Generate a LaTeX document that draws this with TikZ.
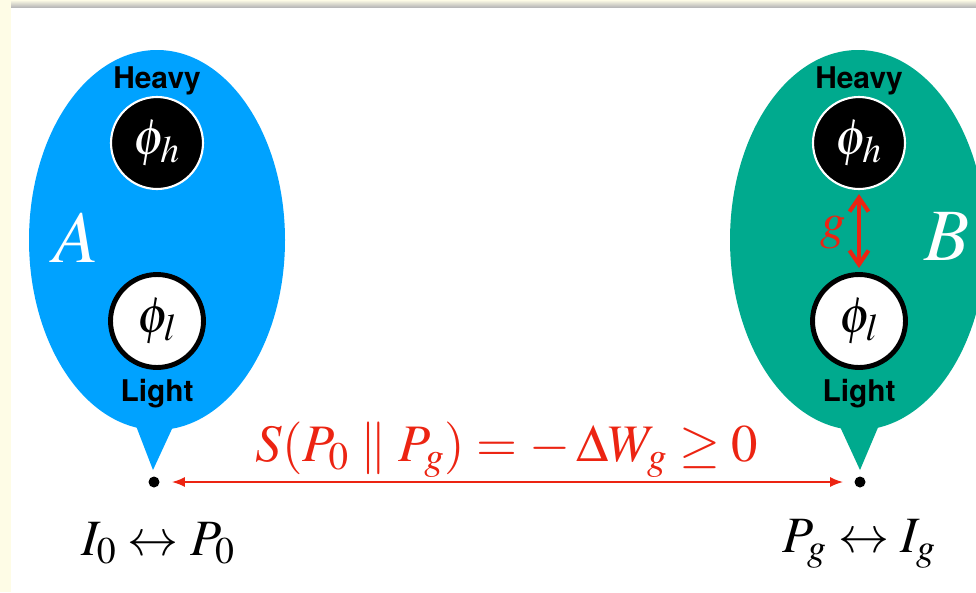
\documentclass[tikz,border=0pt]{standalone}
\usepackage{mathptmx}
\usepackage{fontspec}
\setmainfont{Liberation Serif}
\newfontfamily\labelfont{TeX Gyre Heros}
\usetikzlibrary{arrows.meta, positioning}
\definecolor{bubbleA}{RGB}{0,162,255}
\definecolor{bubbleB}{RGB}{0,170,142}
\definecolor{cream}{RGB}{254,252,230}
\definecolor{redline}{RGB}{236,36,18}

\begin{document}
\begin{tikzpicture}[x=0.02cm, y=-0.02cm, >=Stealth,
  every node/.style={inner sep=0pt, font=\fontsize{29}{32}\selectfont},
  heavy/.style={circle, fill=black, draw=white, line width=1.2pt, minimum size=1.84cm, text=white},
  light/.style={circle, fill=white, draw=black, line width=2.8pt, minimum size=1.86cm},
  tag/.style={anchor=base, font=\labelfont\bfseries\fontsize{17}{20}\selectfont},
  bigletter/.style={anchor=base, text=white, font=\fontsize{42}{46}\selectfont},
  pointnode/.style={circle, fill=black, minimum size=0.22cm}]
  % adjustable parameters
  \def\rx{128}  % half width of a bubble
  \def\ry{190}  % half height of a bubble

  % page: cream margin, white panel, shadow on top
  \useasboundingbox (0,0) rectangle (976,592);
  \clip (0,0) rectangle (976,592);
  \fill[cream] (0,0) rectangle (976,592);
  \fill[white] (11,7) rectangle (976,592);
  \shade[top color=cream, bottom color=gray!55] (11,0) rectangle (976,7);

  % bubble A (blue)
  \fill[bubbleA] (157,240) ellipse [x radius=\rx, y radius=\ry];
  \fill[bubbleA] (133,418) -- (153,470) -- (177,418) -- cycle;

  % bubble B (green)
  \fill[bubbleB] (858,240) ellipse [x radius=\rx, y radius=\ry];
  \fill[bubbleB] (836,418) -- (860,470) -- (882,418) -- cycle;

  % fields inside A
  \node[tag] (heavyA) at (157,88) {Heavy};
  \node[heavy] (hA) at (157,143) {$\phi_h$};
  \node[light] (lA) at (157,321) {$\phi_l$};
  \node[tag] (lightA) at (157,401) {Light};
  \node[bigletter] (nameA) at (76,262) {$A$};

  % fields inside B
  \node[tag] (heavyB) at (859,88) {Heavy};
  \node[heavy] (hB) at (859,143) {$\phi_h$};
  \node[light] (lB) at (859,321) {$\phi_l$};
  \node[tag] (lightB) at (859,401) {Light};
  \node[bigletter] (nameB) at (947,260) {$B$};

  % coupling g between heavy and light
  \draw[{Straight Barb[length=0.28cm, width=0.38cm]}-{Straight Barb[length=0.28cm, width=0.38cm]},
    redline, line width=2.3pt, shorten <=0.08cm, shorten >=0.08cm] (hB) -- (lB);
  \node[text=redline] (coupling) at (833,233) {$g$};

  % points of the two states
  \node[pointnode] (p0) at (154,482) {};
  \node[pointnode] (pg) at (860,482) {};

  % relative entropy between them
  \draw[{Latex[length=0.26cm, width=0.2cm]}-{Latex[length=0.26cm, width=0.2cm]},
    redline, line width=1.1pt, shorten <=0.24cm, shorten >=0.22cm] (p0) -- (pg)
    node[midway, above=0.07cm, text=redline, font=\fontsize{30}{33}\selectfont]
      {$S(P_0 \parallel P_g) = -\,\Delta W_g \geq 0$};

  % correspondences
  \node (pairA) at (158,543) {$I_0 \leftrightarrow P_0$};
  \node (pairB) at (859,544) {$P_g \leftrightarrow I_g$};

\end{tikzpicture}
\end{document}
